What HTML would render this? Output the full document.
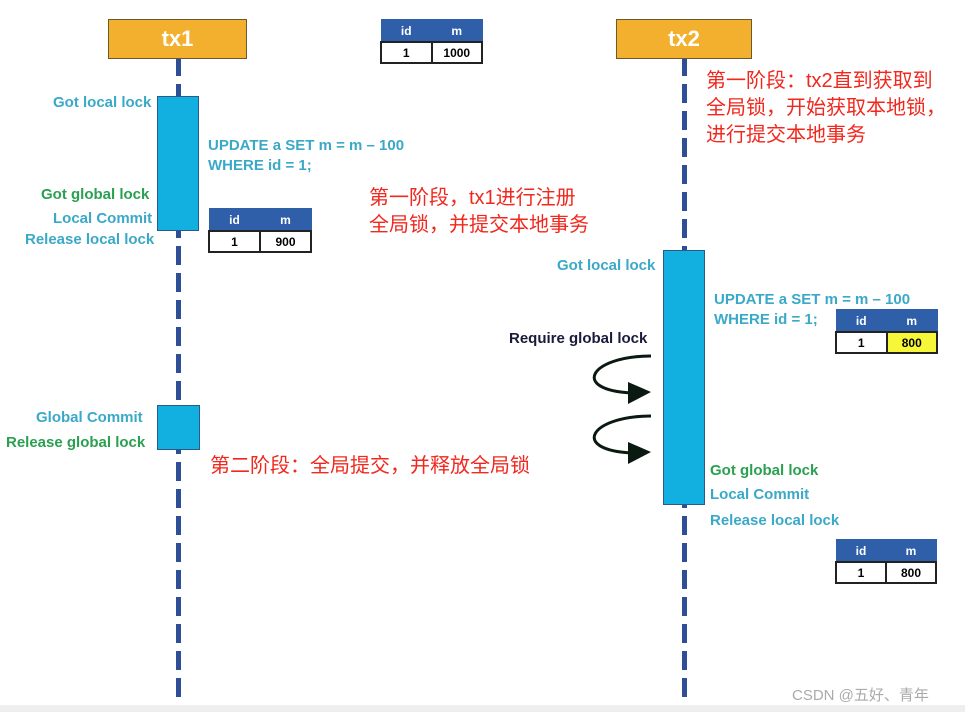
<!DOCTYPE html>
<html><head><meta charset="utf-8"><style>
body{margin:0;width:965px;height:712px;background:#fff;position:relative;overflow:hidden;font-family:"Liberation Sans","Noto Sans CJK SC",sans-serif}
.a{position:absolute}
.life{position:absolute;width:5px;background:repeating-linear-gradient(to bottom,#2e4e96 0 19px,transparent 19px 27px)}
.hd{background:#f2b02e;border:1px solid #6b5a2a;color:#fff;font-size:22px;font-weight:bold;text-align:center;line-height:38px}
.act{background:#11b0e0;border:1.5px solid #2a5a8a;box-sizing:border-box}
.l{position:absolute;font-size:15px;font-weight:bold;white-space:nowrap}
.c{color:#3aa9c8}.g{color:#2aa050}.k{color:#1a1a3a}
.r{position:absolute;color:#f0281e;font-size:20px;line-height:27px;white-space:nowrap}
table{position:absolute;border-collapse:collapse;font-size:12px;font-weight:bold;text-align:center;table-layout:fixed}
th{background:#2f5fa8;color:#fff;height:19px;border:1px solid #2f5fa8}
td{border:2px solid #222;height:17px;background:#fff}
</style></head><body>
<div class="life" style="left:176px;top:57px;height:655px"></div>
<div class="life" style="left:682px;top:57px;height:655px"></div>
<div class="a hd" style="left:108px;top:19px;width:137px;height:38px">tx1</div>
<div class="a hd" style="left:616px;top:19px;width:134px;height:38px">tx2</div>
<div class="a act" style="left:157px;top:96px;width:42px;height:135px"></div>
<div class="a act" style="left:157px;top:405px;width:43px;height:45px"></div>
<div class="a act" style="left:663px;top:250px;width:42px;height:255px"></div>

<table style="left:380px;top:19px;width:103px"><tr><th>id</th><th>m</th></tr><tr><td>1</td><td>1000</td></tr></table>
<table style="left:208px;top:208px;width:104px"><tr><th>id</th><th>m</th></tr><tr><td>1</td><td>900</td></tr></table>
<table style="left:835px;top:309px;width:103px"><tr><th>id</th><th>m</th></tr><tr><td>1</td><td style="background:#f7f73a">800</td></tr></table>
<table style="left:835px;top:539px;width:102px"><tr><th>id</th><th>m</th></tr><tr><td>1</td><td>800</td></tr></table>

<div class="l c" style="left:53px;top:94px">Got local lock</div>
<div class="l c" style="left:208px;top:136px;line-height:20px">UPDATE a SET m = m – 100<br>WHERE id = 1;</div>
<div class="l g" style="left:41px;top:186px">Got global lock</div>
<div class="l c" style="left:53px;top:210px">Local Commit</div>
<div class="l c" style="left:25px;top:231px">Release local lock</div>
<div class="l c" style="left:36px;top:409px">Global Commit</div>
<div class="l g" style="left:6px;top:434px">Release global lock</div>

<div class="l c" style="left:557px;top:257px">Got local lock</div>
<div class="l c" style="left:714px;top:290px;line-height:20px">UPDATE a SET m = m – 100<br>WHERE id = 1;</div>
<div class="l k" style="left:509px;top:330px">Require global lock</div>
<div class="l g" style="left:710px;top:462px">Got global lock</div>
<div class="l c" style="left:710px;top:486px">Local Commit</div>
<div class="l c" style="left:710px;top:512px">Release local lock</div>

<div class="r" style="left:706px;top:68px">第一阶段：tx2直到获取到<br>全局锁，开始获取本地锁，<br>进行提交本地事务</div>
<div class="r" style="left:369px;top:185px">第一阶段，tx1进行注册<br>全局锁，并提交本地事务</div>
<div class="r" style="left:210px;top:453px">第二阶段：全局提交，并释放全局锁</div>

<svg class="a" style="left:0;top:0" width="965" height="712">
<path d="M651 356 C 590 356, 570 390, 632 393" fill="none" stroke="#0a1a10" stroke-width="3"/>
<polygon points="628,382 651,392 628,404" fill="#0a1a10"/>
<path d="M651 416 C 590 416, 570 450, 632 453" fill="none" stroke="#0a1a10" stroke-width="3"/>
<polygon points="628,442 651,452 628,464" fill="#0a1a10"/>
</svg>
<div class="a" style="left:0;top:705px;width:965px;height:7px;background:#eee"></div>
<div class="a" style="left:792px;top:684px;font-size:15px;color:#aaa">CSDN @五好、青年</div>
</body></html>
